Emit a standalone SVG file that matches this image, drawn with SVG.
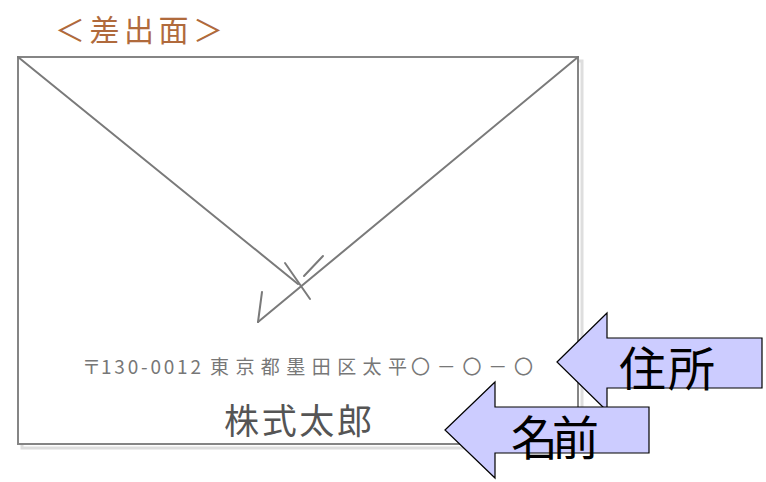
<svg xmlns="http://www.w3.org/2000/svg" width="766" height="482" viewBox="0 0 766 482">
<style>
.cjk{font-family:"Noto Sans CJK JP","Noto Sans CJK SC",sans-serif;}
.env{fill:none;stroke:#7a7a7a;stroke-width:2;stroke-linecap:round;}
.arrow{fill:#ccccff;stroke:#000;stroke-width:1.2;stroke-linejoin:miter;}
.lbl{font-size:47px;fill:#000;}
.addr{font-size:19px;fill:#777;}
</style>
<rect width="766" height="482" fill="#fff"/>
<text class="cjk" x="55" y="41" font-size="30" fill="#b06a3c" textLength="168" lengthAdjust="spacing">＜差出面＞</text>
<g id="envelope">
<rect x="22" y="61" width="560" height="387" fill="none" stroke="#dedede" stroke-width="3"/>
<rect x="18" y="57" width="560" height="387" fill="#fff" stroke="#858585" stroke-width="2"/>
</g>
<g id="flap">
<line class="env" x1="18" y1="57" x2="298" y2="284"/>
<line class="env" x1="578" y1="57" x2="258" y2="322"/>
<line class="env" x1="285" y1="263" x2="310" y2="299"/>
<line class="env" x1="323" y1="256" x2="304" y2="276" stroke-width="1.5"/>
<line class="env" x1="258" y1="322" x2="262" y2="292"/>
</g>
<g id="address">
<text class="cjk addr" y="374"><tspan x="82">〒</tspan><tspan x="101" textLength="100" lengthAdjust="spacing">130-0012</tspan><tspan x="210" textLength="197" lengthAdjust="spacing">東京都墨田区太平</tspan><tspan x="411" textLength="122" lengthAdjust="spacing">〇－〇－〇</tspan></text>
</g>
<g id="name">
<text class="cjk" x="224" y="434" font-size="35" fill="#555" textLength="148" lengthAdjust="spacing">株式太郎</text>
</g>
<g id="connectors"></g>
<g id="arrow-address">
<polygon class="arrow" points="557,362 607,313 607,338 762,338 762,388 607,388 607,411"/>
<text class="cjk lbl" x="619" y="386" textLength="96" lengthAdjust="spacing">住所</text>
</g>
<g id="arrow-name">
<polygon class="arrow" points="445,430 495,382 495,407 649,407 649,453 495,453 495,478"/>
<text class="cjk lbl" x="511" y="455" textLength="88" lengthAdjust="spacing">名前</text>
</g>
</svg>
